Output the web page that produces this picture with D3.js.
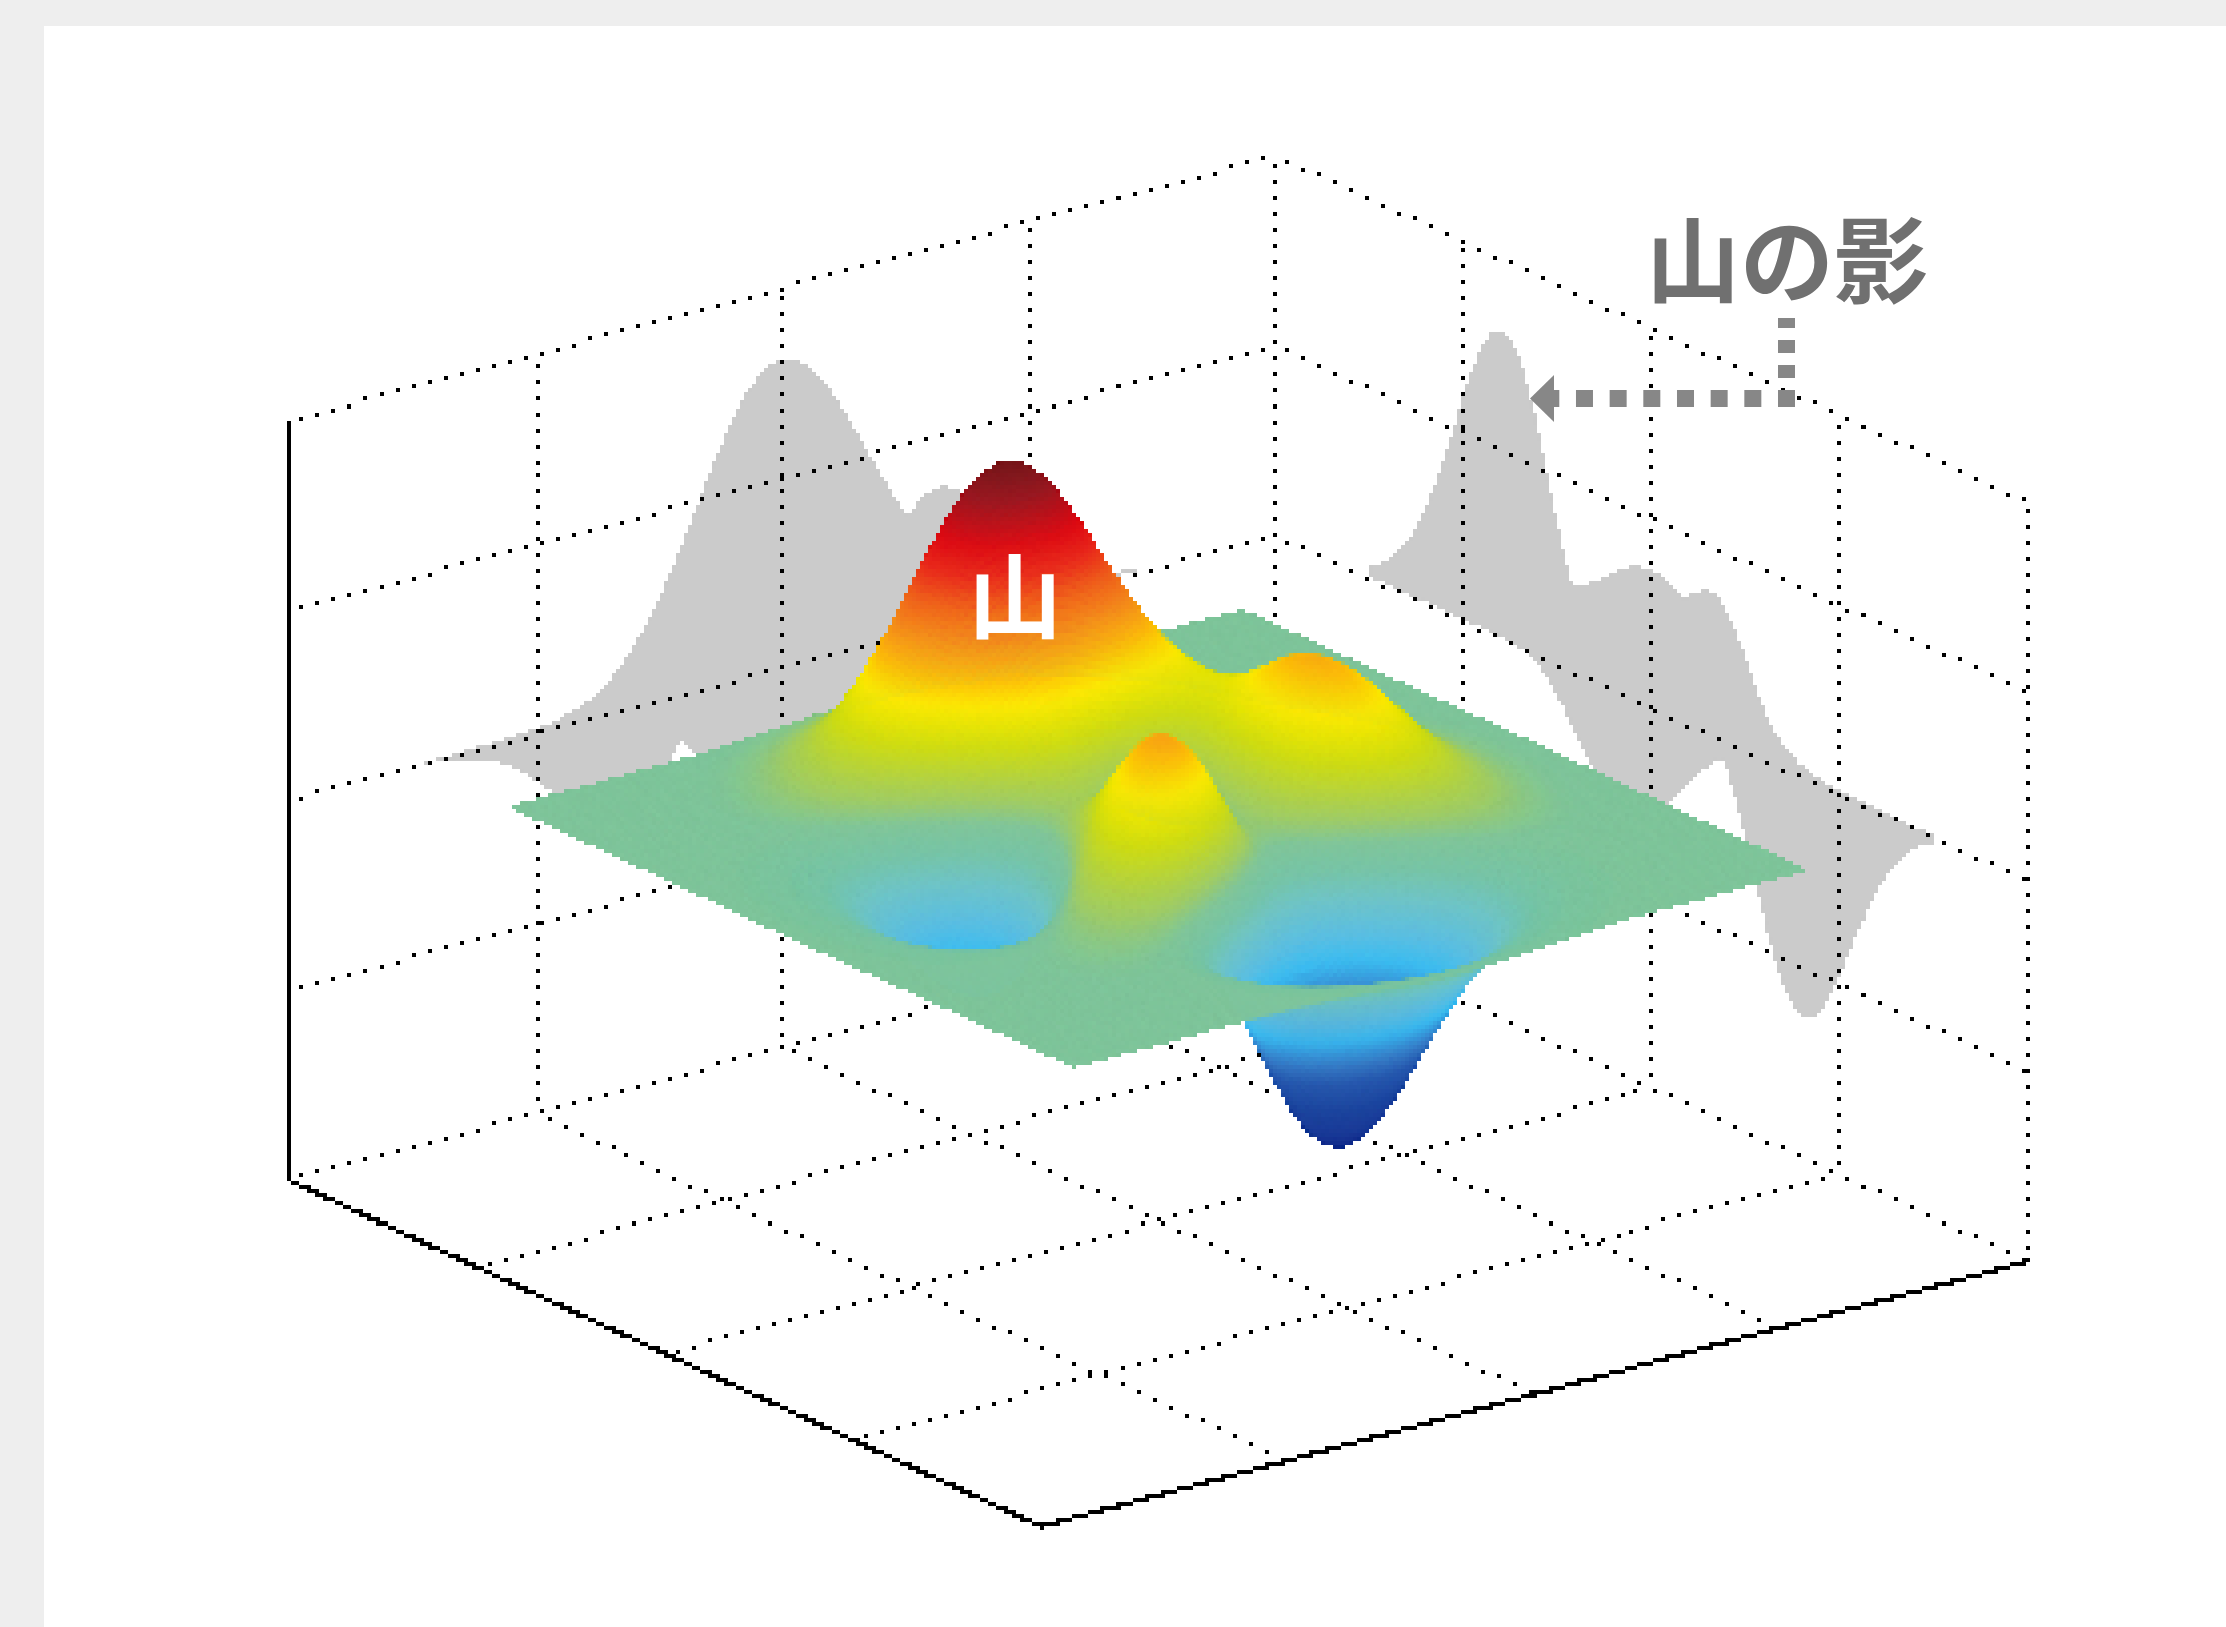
<!DOCTYPE html>
<html>
<head>
<meta charset="utf-8">
<script src="https://cdn.jsdelivr.net/npm/d3@7/dist/d3.min.js"></script>
<style>
html,body{margin:0;padding:0;background:#eeeeee;overflow:hidden;width:2226px;height:1627px}
#sheet{position:absolute;left:44px;top:26px;right:0;bottom:0;background:#fff}
canvas{position:absolute;image-rendering:pixelated}
svg{position:absolute;left:0;top:0}
</style>
</head>
<body>
<div id="sheet"></div>
<canvas id="plot" width="557" height="408"></canvas>
<svg id="notes" width="2226" height="1627"></svg>
<script>
// ---- data ----
const axisTicksXY = [-4, -2, 0, 2, 4];
const axisTicksZ = [-10, -5, 0, 5, 10];
const gridX = [-2.97,-2.72,-2.47,-2.23,-1.98,-1.73,-1.48,-1.24,-0.99,-0.74,-0.49,-0.25,0,0.25,0.49,0.74,0.99,1.24,1.48,1.73,1.98,2.23,2.47,2.72,2.97];
const gridY = [-3,-2.75,-2.5,-2.25,-2,-1.75,-1.5,-1.25,-1,-0.75,-0.5,-0.25,0,0.25,0.5,0.75,1,1.25,1.5,1.75,2,2.25,2.5,2.75,3];
// one row per gridY value, one column per gridX value
const heights = [
[0,0,0,0,0,.01,.01,0,-.03,-.07,-.13,-.19,-.24,-.24,-.22,-.16,-.11,-.06,-.03,-.01,-.01,0,0,0,0],
[0,0,0,0,.01,.01,0,-.03,-.10,-.22,-.39,-.56,-.68,-.70,-.61,-.46,-.30,-.17,-.08,-.03,-.01,0,0,0,0],
[0,0,0,.01,.01,.02,0,-.07,-.24,-.53,-.92,-1.31,-1.58,-1.61,-1.41,-1.06,-.69,-.39,-.18,-.08,-.03,-.01,0,0,0],
[0,0,.01,.01,.03,.04,.01,-.12,-.43,-.98,-1.73,-2.48,-3.0,-3.08,-2.71,-2.04,-1.32,-.73,-.34,-.14,-.05,-.01,0,0,0],
[0,0,.01,.02,.05,.07,.05,-.13,-.59,-1.45,-2.64,-3.88,-4.72,-4.88,-4.32,-3.27,-2.10,-1.15,-.53,-.20,-.06,-.01,0,0,0],
[0,0,.01,.03,.07,.13,.15,.02,-.47,-1.48,-3.01,-4.66,-5.88,-6.2,-5.55,-4.22,-2.69,-1.42,-.61,-.20,-.05,0,.01,0,0],
[0,0,.01,.03,.08,.19,.33,.40,.16,-.66,-2.16,-4.0,-5.55,-6.15,-5.62,-4.27,-2.63,-1.27,-.44,-.07,.04,.05,.03,.01,0],
[0,-.01,-.01,-.01,.03,.16,.44,.83,1.10,.88,-.15,-1.86,-3.6,-4.58,-4.38,-3.23,-1.74,-.56,.08,.27,.23,.13,.06,.02,.01],
[-.01,-.03,-.06,-.10,-.13,-.04,.30,.99,1.85,2.46,2.23,.99,-.73,-2.02,-2.22,-1.43,-.28,.58,.88,.77,.50,.26,.11,.04,.01],
[-.02,-.05,-.12,-.25,-.42,-.51,-.28,.49,1.78,3.09,3.63,2.94,1.40,-.01,-.41,.20,1.17,1.79,1.77,1.35,.82,.41,.17,.06,.02],
[-.02,-.08,-.20,-.44,-.80,-1.16,-1.21,-.60,.80,2.49,3.55,3.30,2.0,.70,.39,1.14,2.19,2.77,2.55,1.87,1.12,.56,.24,.09,.02],
[-.03,-.10,-.27,-.60,-1.14,-1.77,-2.16,-1.84,-.56,1.24,2.56,2.62,1.59,.52,.48,1.49,2.75,3.38,3.08,2.24,1.34,.67,.28,.10,.03],
[-.03,-.11,-.30,-.69,-1.33,-2.14,-2.77,-2.72,-1.65,.07,1.48,1.75,.98,.19,.38,1.57,2.93,3.59,3.26,2.37,1.41,.70,.30,.11,.03],
[-.03,-.11,-.29,-.67,-1.31,-2.15,-2.86,-2.98,-2.14,-.64,.69,1.06,.52,-.03,.28,1.46,2.75,3.37,3.05,2.21,1.32,.65,.28,.10,.03],
[-.03,-.09,-.25,-.57,-1.12,-1.85,-2.49,-2.64,-2.0,-.76,.39,.79,.46,.09,.38,1.34,2.37,2.84,2.55,1.84,1.09,.54,.23,.08,.02],
[-.02,-.07,-.18,-.42,-.81,-1.33,-1.76,-1.78,-1.16,-.05,1.04,1.55,1.42,1.12,1.17,1.65,2.17,2.33,1.99,1.40,.82,.40,.17,.06,.02],
[-.01,-.04,-.11,-.25,-.48,-.74,-.86,-.60,.23,1.51,2.80,3.59,3.69,3.34,2.94,2.66,2.43,2.09,1.58,1.03,.58,.28,.11,.04,.01],
[-.01,-.02,-.06,-.12,-.20,-.22,-.05,.55,1.70,3.30,4.93,6.07,6.40,5.95,5.03,3.98,2.97,2.10,1.35,.79,.41,.19,.07,.03,.01],
[0,-.01,-.02,-.03,-.01,.11,.48,1.27,2.60,4.36,6.17,7.51,7.96,7.45,6.23,4.70,3.24,2.05,1.18,.62,.29,.12,.05,.02,0],
[0,0,0,.01,.07,.24,.64,1.43,2.68,4.29,5.97,7.22,7.68,7.19,5.99,4.45,2.96,1.78,.96,.47,.21,.08,.03,.01,0],
[0,0,.01,.02,.08,.23,.55,1.16,2.10,3.31,4.56,5.50,5.86,5.49,4.57,3.37,2.21,1.30,.67,.32,.13,.05,.02,.01,0],
[0,0,.01,.02,.06,.15,.36,.74,1.32,2.06,2.83,3.41,3.63,3.41,2.83,2.08,1.35,.79,.40,.19,.08,.03,.01,0,0],
[0,0,0,.01,.03,.08,.19,.39,.69,1.07,1.47,1.78,1.89,1.77,1.47,1.08,.70,.40,.20,.09,.04,.01,0,0,0],
[0,0,0,.01,.02,.04,.09,.17,.30,.47,.64,.77,.82,.77,.64,.47,.30,.17,.09,.04,.02,.01,0,0,0],
[0,0,0,0,.01,.01,.03,.06,.11,.17,.23,.27,.29,.27,.23,.17,.11,.06,.03,.01,.01,0,0,0,0]
];
const colorStopsZ = [-6.4,-5.8,-4.9,-4,-3.4,-3,-2.6,-2,-1.2,-0.56,0.1,0.58,1.2,1.8,2.3,2.75,3.1,3.38,3.7,4.3,5,5.7,6.4,7.4,8.1];
const colorStops = ['#142a88','#1c3c98','#1f48a0','#2a5cb0','#3a80c8','#3b9cdc','#3cbcf0','#5cbfe2','#70c4c8','#78c4a8','#82c69a','#a0cc68','#b8d43c','#cfdc14','#e6e408','#fbe806','#fcd208','#fbbc0c','#f8a816','#f28420','#ee5e1e','#e82a1e','#dc0c16','#981c24','#781a1e'];
const shadowColor = '#cbcbcb';
const surfaceLabel = '山';
const shadowLabel = '山の影';

// ---- projection: orthographic, built from linear scales ----
const PXW = 4.006, PXH = 4.003, LEFT = 2.57, TOP = 0.4;
const xToH = d3.scaleLinear([-4,4],[0,986]);
const xToV = d3.scaleLinear([-4,4],[0,-265]);
const yToH = d3.scaleLinear([4,-4],[0,752]);
const yToV = d3.scaleLinear([4,-4],[0,346]);
const zToV = d3.scaleLinear([-10,10],[0,-759]);
const ORIGIN = [289,1180];
const LIFT = -2.5;            // surface and shadows sit slightly above the box centre
const sx = (x,y) => ORIGIN[0] + xToH(x) + yToH(y);
const sy = (x,y,z) => ORIGIN[1] + xToV(x) + yToV(y) + zToV(z);
const loX = v => (v - LEFT) / PXW;
const loY = v => (v - TOP) / PXH;
const color = d3.scaleLinear(colorStopsZ, colorStops).interpolate(d3.interpolateRgb).clamp(true);

const canvas = document.getElementById('plot');
canvas.style.left = LEFT+'px'; canvas.style.top = TOP+'px';
canvas.style.width = (canvas.width*PXW)+'px'; canvas.style.height = (canvas.height*PXH)+'px';
const ctx = canvas.getContext('2d');
const W = canvas.width, H = canvas.height;
function layer(){ const c = document.createElement('canvas'); c.width=W; c.height=H; return c; }
function harden(c, cut){
  const g = c.getContext('2d'), im = g.getImageData(0,0,W,H), d = im.data;
  for(let i=3;i<d.length;i+=4) d[i] = d[i] >= cut ? 255 : 0;
  g.putImageData(im,0,0);
}

// ---- shading upsample of the table (Catmull-Rom), as interpolated shading does ----
const SUB = 10;
function cr(a,b,c,d,t){ return 0.5*((2*b)+(c-a)*t+(2*a-5*b+4*c-d)*t*t+(3*b-a-3*c+d)*t*t*t); }
function fine1(arr){
  const out=[], n=arr.length;
  for(let i=0;i<n-1;i++) for(let s=0;s<SUB;s++){
    out.push(cr(arr[Math.max(i-1,0)],arr[i],arr[i+1],arr[Math.min(i+2,n-1)],s/SUB));
  }
  out.push(arr[n-1]);
  return out;
}
const rowsFine = heights.map(fine1);
const colsFine = d3.range(rowsFine[0].length).map(c => fine1(rowsFine.map(r => r[c])));
// colsFine[i][j] : i along x, j along y
const fx = d3.range(colsFine.length).map(i => d3.scaleLinear([0,colsFine.length-1],[gridX[0],gridX[gridX.length-1]])(i));
const fy = d3.range(colsFine[0].length).map(j => d3.scaleLinear([0,colsFine[0].length-1],[gridY[0],gridY[gridY.length-1]])(j));

// ---- shadows on the two back walls ----
const shadowLayer = layer(), sg = shadowLayer.getContext('2d');
sg.fillStyle = shadowColor;
const wallY = d3.max(axisTicksXY), wallX = d3.max(axisTicksXY);
const envX = fx.map((x,i)=>({x, top:d3.max(colsFine[i]), bot:d3.min(colsFine[i])}));
const envY = fy.map((y,j)=>({y, top:d3.max(colsFine,c=>c[j]), bot:d3.min(colsFine,c=>c[j])}));
sg.beginPath();
d3.area().x(d=>loX(sx(d.x,wallY))).y0(d=>loY(sy(d.x,wallY,d.bot)+LIFT)).y1(d=>loY(sy(d.x,wallY,d.top)+LIFT)).context(sg)(envX);
sg.fill();
sg.beginPath();
d3.area().x(d=>loX(sx(wallX,d.y))).y0(d=>loY(sy(wallX,d.y,d.bot)+LIFT)).y1(d=>loY(sy(wallX,d.y,d.top)+LIFT)).context(sg)(envY);
sg.fill();
harden(shadowLayer,128);
ctx.drawImage(shadowLayer,0,0);

// ---- box grid ----
function pixelLine(a,b,step,phase){
  const dx=b[0]-a[0], dy=b[1]-a[1], len=Math.max(Math.abs(dx),Math.abs(dy));
  for(let s=phase;s<=len;s+=step){
    const t=s/len;
    ctx.fillRect(Math.floor(loX(a[0]+dx*t)),Math.floor(loY(a[1]+dy*t)),1,1);
  }
}
const P = (x,y,z) => [sx(x,y),sy(x,y,z)];
const [t0,t4]=d3.extent(axisTicksXY), [z0,z4]=d3.extent(axisTicksZ);
ctx.fillStyle='#000';
axisTicksXY.forEach(t=>{
  if(t>t0) pixelLine(P(t,t4,z4),P(t,t4,z0),16,10);
  if(t<t4) pixelLine(P(t4,t,z4),P(t4,t,z0),16,10);
  if(t>t0 && t<t4){
    pixelLine(P(t,t4,z0),P(t,t0,z0),16,12);
    pixelLine(P(t0,t,z0),P(t4,t,z0),16,12);
  }
});
axisTicksZ.forEach(z=>{
  pixelLine(P(t0,t4,z),P(t4,t4,z),16,12);
  pixelLine(P(t4,t4,z),P(t4,t0,z),16,12);
});
// solid front edges
pixelLine(P(t0,t4,z4),P(t0,t4,z0),2,0);
pixelLine(P(t0,t4,z0),P(t0,t0,z0),2,0);
pixelLine(P(t0,t0,z0),P(t4,t0,z0),2,0);

// ---- surface, painted back to front ----
const surfLayer = layer(), fg = surfLayer.getContext('2d');
fg.lineWidth = 0.3; fg.lineJoin='round';
for(let i=fx.length-2;i>=0;i--){
  for(let j=fy.length-2;j>=0;j--){
    const zs=[colsFine[i][j],colsFine[i+1][j],colsFine[i+1][j+1],colsFine[i][j+1]];
    const xs=[fx[i],fx[i+1],fx[i+1],fx[i]], ys=[fy[j],fy[j],fy[j+1],fy[j+1]];
    const c=color(d3.mean(zs));
    fg.fillStyle=c; fg.strokeStyle=c;
    fg.beginPath();
    zs.forEach((z,k)=>{
      const px=loX(sx(xs[k],ys[k])), py=loY(sy(xs[k],ys[k],z)+LIFT);
      if(k) fg.lineTo(px,py); else fg.moveTo(px,py);
    });
    fg.closePath(); fg.fill(); fg.stroke();
  }
}
harden(surfLayer,128);
ctx.drawImage(surfLayer,0,0);

// ---- annotations ----
const svg = d3.select('#notes');
const FONT = '"Noto Sans CJK JP","Noto Sans CJK SC",sans-serif';
const GREY = '#878787';
svg.append('line').attr('x1',1795).attr('x2',1542).attr('y1',398.5).attr('y2',398.5)
   .attr('stroke',GREY).attr('stroke-width',17).attr('stroke-dasharray','17 16.67');
svg.append('line').attr('x1',1786.5).attr('x2',1786.5).attr('y1',378).attr('y2',318)
   .attr('stroke',GREY).attr('stroke-width',17).attr('stroke-dasharray','13 12');
svg.append('path').attr('d',d3.line()([[1530,398.5],[1554,375],[1554,422]])+'Z').attr('fill',GREY);
svg.append('text').attr('x',1646).attr('y',296).attr('font-family',FONT).attr('font-weight',700)
   .attr('font-size',94).attr('fill','#707070').text(shadowLabel);
svg.append('text').attr('x',968).attr('y',632).attr('font-family',FONT).attr('font-weight',700)
   .attr('font-size',94).attr('fill','#ffffff').text(surfaceLabel);
</script>
</body>
</html>
